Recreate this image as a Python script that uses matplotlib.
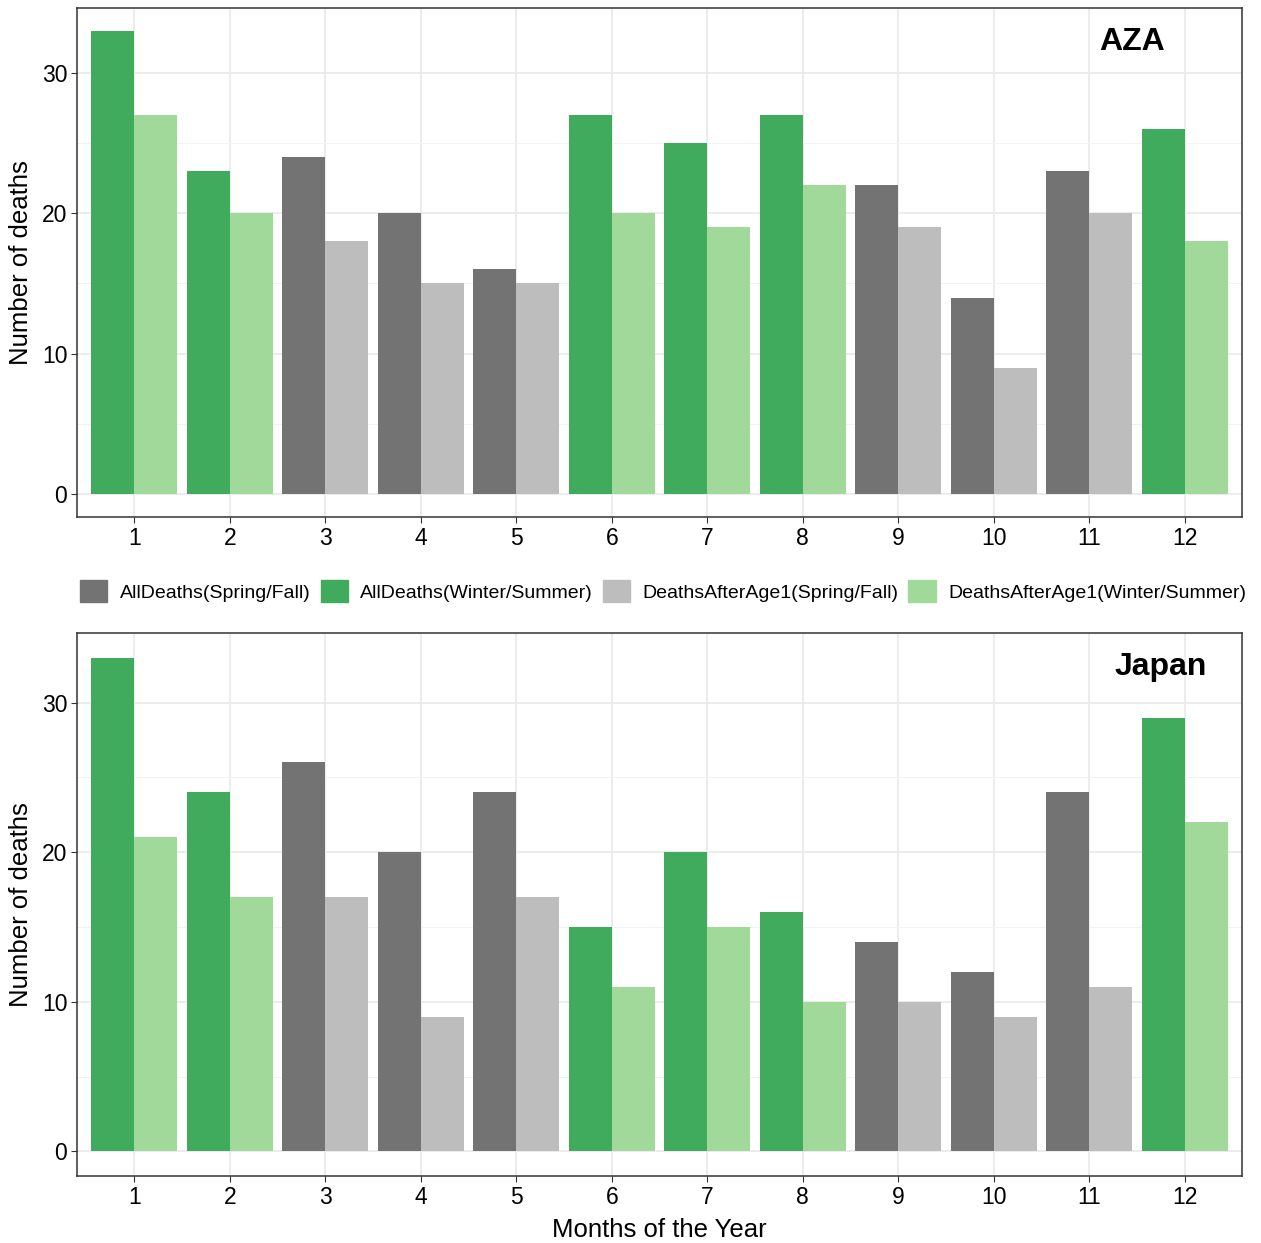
import numpy as np
import matplotlib.pyplot as plt
from matplotlib.patches import Patch

plt.rcParams['font.family'] = ['Liberation Sans', 'DejaVu Sans']

months = list(range(1, 13))
# season group per month: True = Winter/Summer, False = Spring/Fall
winter_summer = [True, True, False, False, False, True, True, True, False, False, False, True]

aza_all = [33, 23, 24, 20, 16, 27, 25, 27, 22, 14, 23, 26]
aza_after1 = [27, 20, 18, 15, 15, 20, 19, 22, 19, 9, 20, 18]
japan_all = [33, 24, 26, 20, 24, 15, 20, 16, 14, 12, 24, 29]
japan_after1 = [21, 17, 17, 9, 17, 11, 15, 10, 10, 9, 11, 22]

C_ALL_SF = '#737373'
C_ALL_WS = '#41AB5D'
C_AFT_SF = '#BDBDBD'
C_AFT_WS = '#A1D99B'

legend_labels = ['AllDeaths(Spring/Fall)', 'AllDeaths(Winter/Summer)',
                 'DeathsAfterAge1(Spring/Fall)', 'DeathsAfterAge1(Winter/Summer)']

fig = plt.figure(figsize=(12.61, 12.43), dpi=100)
ax_top = fig.add_axes([0.0611, 0.5841, 0.9239, 0.4095])
ax_bot = fig.add_axes([0.0611, 0.0539, 0.9239, 0.4368])


def draw_panel(ax, all_vals, after_vals, title, tx, ty):
    x = np.array(months)
    c_all = [C_ALL_WS if w else C_ALL_SF for w in winter_summer]
    c_aft = [C_AFT_WS if w else C_AFT_SF for w in winter_summer]
    ax.bar(x - 0.225, all_vals, width=0.45, color=c_all, zorder=3)
    ax.bar(x + 0.225, after_vals, width=0.45, color=c_aft, zorder=3)
    ax.set_xlim(0.4, 12.6)
    ax.set_ylim(-1.65, 34.65)
    ax.set_xticks(months)
    ax.set_yticks([0, 10, 20, 30])
    ax.set_yticks([5, 15, 25], minor=True)
    ax.grid(which='major', color='#EBEBEB', linewidth=1.3, zorder=0)
    ax.grid(which='minor', axis='y', color='#F2F2F2', linewidth=0.7, zorder=0)
    ax.tick_params(axis='both', which='major', labelsize=16.5, length=4,
                   color='#333333', labelcolor='black', pad=3)
    ax.tick_params(axis='y', which='minor', length=0)
    for s in ax.spines.values():
        s.set_color('#333333')
        s.set_linewidth(1.1)
    ax.set_ylabel('Number of deaths', fontsize=18.5, labelpad=6)
    ax.text(tx, ty, title, transform=ax.transAxes, ha='center', va='center',
            fontsize=23, fontweight='bold')


draw_panel(ax_top, aza_all, aza_after1, 'AZA', 0.906, 0.933)
draw_panel(ax_bot, japan_all, japan_after1, 'Japan', 0.930, 0.937)
ax_bot.set_xlabel('Months of the Year', fontsize=18.5, labelpad=7)

handles = [Patch(color=c) for c in [C_ALL_SF, C_ALL_WS, C_AFT_SF, C_AFT_WS]]
fig.legend(handles, legend_labels, loc='center', bbox_to_anchor=(0.526, 0.5245),
           ncol=4, frameon=False, fontsize=14, handlelength=1.4, handleheight=1.4,
           handletextpad=0.65, columnspacing=0.5)

fig.savefig('out.png', dpi=100)
